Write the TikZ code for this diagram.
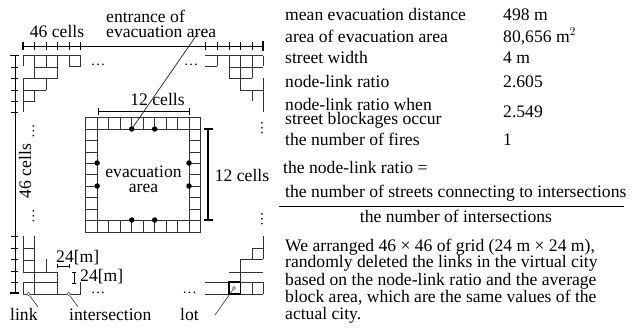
\documentclass[tikz,border=0pt]{standalone}
\usepackage{fontspec}
\setmainfont{Liberation Serif}
\usepackage{tikz}
\usetikzlibrary{arrows.meta,positioning,calc}

\begin{document}
\begin{tikzpicture}[
  x=1pt, y=-1pt,
  street/.style={draw=black!80, line width=0.8pt},
  ruler/.style={draw=black, line width=0.8pt},
  capline/.style={draw=black, line width=1.4pt},
  junction/.style={circle, fill=black, inner sep=0pt, minimum size=5.5pt},
  openmark/.style={circle, draw=black!70, fill=white, inner sep=0pt, minimum size=3.6pt, line width=0.5pt},
  leader/.style={draw=black!80, line width=0.6pt},
  txt/.style={inner sep=0pt, anchor=base west, font=\fontsize{17.6}{17}\selectfont},
  ctxt/.style={inner sep=0pt, anchor=base, font=\fontsize{17.6}{17}\selectfont},
  dotsh/.style={inner sep=0pt, anchor=base, font=\fontsize{14.5}{14}\selectfont}
]
\useasboundingbox (0,0) rectangle (632,327);

% top and left rulers
\draw[ruler, line width=1pt] (23,46) -- (263,46);
\draw[ruler, line width=1pt] (15,55) -- (15,294);
\foreach \x in {34.5,46,57.5,69,80.5,205,217,229,240,252}
  \draw[ruler] (\x,42) -- (\x,50);
\draw[capline] (23,42) -- (23,50);
\draw[capline] (263,41) -- (263,51);
\foreach \y in {67,78,90,101,112,236,248,259.5,271,282}
  \draw[ruler] (11,\y) -- (18,\y);
\draw[capline] (10,55.5) -- (19,55.5);
\draw[capline] (10,293) -- (19,293);

% corner of the grid, top left
\draw[street] (23,55.5) -- (80.5,55.5);
\foreach \a/\b/\c/\d in {23/55.5/23/66, 34.5/55.5/34.5/78, 46/55.5/46/67, 57.5/55.5/57.5/78,
    69/55.5/69/66, 80.5/55.5/80.5/66, 69/66/80.5/66, 34.5/67/57.5/67, 23/78/57.5/78,
    23/78/23/112, 46/78/46/90, 23/90/46/90, 34.5/90/34.5/101, 23/101/34.5/101}
  \draw[street] (\a,\b) -- (\c,\d);

% corner of the grid, top right
\draw[street] (205,55.5) -- (263,55.5);
\foreach \a/\b/\c/\d in {217/55.5/217/66, 205/66/217/66, 229/55.5/229/78, 240/55.5/240/90,
    252/55.5/252/78, 263/55.5/263/66, 229/67/263/67, 229/78/252/78, 263/78/263/112,
    240/90/263/90, 252/90/252/101}
  \draw[street] (\a,\b) -- (\c,\d);

% corner of the grid, bottom left
\draw[street] (23,294) -- (80.5,294);
\foreach \a/\b/\c/\d in {23/236/23/272, 34.5/236/34.5/294, 23/248/34.5/248, 23/260/34.5/260,
    23/272/57.5/272, 46/259/46/272, 57.5/272/57.5/294, 23/282/57.5/282, 23/282/23/294,
    80.5/282/80.5/294}
  \draw[street] (\a,\b) -- (\c,\d);

% corner of the grid, bottom right
\foreach \a/\b/\c/\d in {205/282/263/282, 205/294/263/294, 252/282/252/294, 263/236/263/259,
    229/272/263/272, 240/259/240/282, 240/259/263/259, 252/248/252/259, 252/248/263/248,
    263/282/263/294}
  \draw[street] (\a,\b) -- (\c,\d);
\draw[draw=black, line width=1.6pt] (228.7,282) rectangle (240.3,294);

% evacuation area
\draw[street] (85.7,117.3) rectangle (200.7,232);
\draw[street] (97.2,129) rectangle (189,220);
\foreach \x in {108.7,120.2,131.7,143.2,154.7,166.2,177.7}{
  \draw[street] (\x,117.3) -- (\x,129);
  \draw[street] (\x,220) -- (\x,232);
}
\draw[street] (97.2,117.3) -- (97.2,129);
\draw[street] (189,117.3) -- (189,129);
\draw[street] (97.2,220) -- (97.2,232);
\draw[street] (189,220) -- (189,232);
\foreach \y in {129,140.5,152,163,174.5,186,197.5,209,220}{
  \draw[street] (85.7,\y) -- (97.2,\y);
  \draw[street] (189,\y) -- (200.7,\y);
}
\node[junction] (gateN1) at (131.7,129) {};
\node[junction] (gateN2) at (154.7,129) {};
\node[junction] (gateS1) at (131.7,220) {};
\node[junction] (gateS2) at (154.7,220) {};
\node[junction] (gateW1) at (97.2,163) {};
\node[junction] (gateW2) at (97.2,186) {};
\node[junction] (gateE1) at (189,163) {};
\node[junction] (gateE2) at (189,186) {};

% rulers of the evacuation area
\draw[ruler] (98,111.7) -- (189,111.7);
\draw[ruler, line width=1pt] (98,108) -- (98,115);
\draw[ruler] (189,108) -- (189,115);
\draw[ruler, line width=1.2pt] (208,129) -- (208,220);
\draw[capline] (204,129) -- (213,129);
\draw[capline] (204,220) -- (213,220);

% rulers of one cell
\draw[ruler, line width=0.6pt] (57.5,266) -- (69,266);
\draw[ruler, line width=0.6pt] (57.5,264) -- (57.5,268);
\draw[ruler, line width=0.6pt] (69,264) -- (69,268);
\draw[ruler, line width=0.6pt] (74,272) -- (74,283);
\draw[ruler, line width=0.6pt] (72,272) -- (76,272);
\draw[ruler, line width=0.6pt] (72,283) -- (76,283);

% dots
\node[dotsh] (dotsNW) at (98,65) {\dots};
\node[dotsh] (dotsNE) at (191,65) {\dots};
\node[dotsh] (dotsSW) at (98,293) {\dots};
\node[dotsh] (dotsSE) at (189.5,293) {\dots};
\foreach \x/\y/\n in {33.5/131/dotsWa, 33.5/216/dotsWb, 262/128/dotsEa, 262/219/dotsEb}
  \node[inner sep=0pt, rotate=90, font=\fontsize{14.5}{14}\selectfont] (\n) at (\x,\y) {\dots};

% labels
\node[ctxt] (topcells) at (57,37.5) {46 cells};
\node[ctxt, rotate=90] (leftcells) at (31,171) {46 cells};
\node[txt] (entrance) at (106,22.5) {entrance of};
\node[txt] (evacarea) at (106,37.5) {evacuation area};
\node[ctxt] (innertop) at (157.5,105) {12 cells};
\node[ctxt] (innerright) at (242,181.5) {12 cells};
\node[ctxt] (evacA) at (143.5,177) {evacuation};
\node[ctxt] (evacB) at (143.5,192.5) {area};
\node[txt] (cellA) at (56,262.5) {24[m]};
\node[txt] (cellB) at (80,281.5) {24[m]};
\node[txt] (linklabel) at (10,320.5) {link};
\node[txt] (interlabel) at (69,320.5) {intersection};
\node[txt] (lotlabel) at (180,320.5) {lot};

% leaders
\coordinate (entrancetip) at (198,33);
\draw[leader, line width=0.8pt] (gateN1) -- (entrancetip);
\node[openmark] (linkmark) at (28.5,294) {};
\node[openmark] (intermark) at (68.7,294) {};
\node[openmark, minimum size=3pt] (lotmark) at (234,288) {};
\coordinate (linkend) at (38,307);
\coordinate (interend) at (78,307);
\coordinate (lotend) at (215,315);
\draw[leader] (linkmark) -- (linkend);
\draw[leader] (intermark) -- (interend);
\draw[leader] (lotmark) -- (lotend);

% table
\foreach \y/\a/\b/\n in {20/mean evacuation distance/498 m/rowa,
    42/area of evacuation area/{80,656 m$^2$}/rowb,
    63/street width/4 m/rowc,
    87/node-link ratio/2.605/rowd,
    145/the number of fires/1/rowe}{
  \node[txt] (\n) at (285,\y) {\a};
  \node[txt] (\n v) at (503,\y) {\b};
}
\node[txt] (rowf) at (285,110) {node-link ratio when};
\node[txt] (rowg) at (285,124) {street blockages occur};
\node[txt] (rowfv) at (503,117) {2.549};

% ratio
\node[txt] (ratio) at (283,173) {the node-link ratio =};
\node[txt] (numer) at (285,197) {the number of streets connecting to intersections};
\draw[ruler] (279,206) -- (624,206);
\node[ctxt] (denom) at (456,222) {the number of intersections};

% remark
\node[txt] (remA) at (285,251) {We arranged 46 × 46 of grid (24 m × 24 m),};
\node[txt] (remB) at (285,267.5) {randomly deleted the links in the virtual city};
\node[txt] (remC) at (285,285) {based on the node-link ratio and the average};
\node[txt] (remD) at (285,302) {block area, which are the same values of the};
\node[txt] (remE) at (285,319) {actual city.};
\end{tikzpicture}
\end{document}
